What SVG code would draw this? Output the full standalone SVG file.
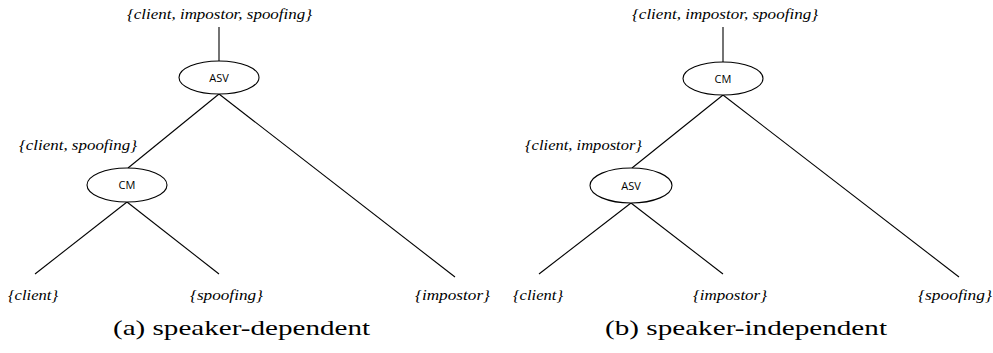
<svg xmlns="http://www.w3.org/2000/svg" width="993" height="353" viewBox="0 0 993 353">
  <style>
    .edge { stroke: #000; stroke-width: 1.1; fill: none; }
    .node ellipse { fill: #fff; stroke: #000; stroke-width: 1.1; }
    .node text { font-family: "Open Sans", "Liberation Sans", sans-serif; font-size: 11px; fill: #000; text-anchor: middle; }
    .set { font-family: "Liberation Serif", "DejaVu Serif", serif; font-style: italic; font-size: 14px; fill: #000; }
    .caption { font-family: "Liberation Serif", "DejaVu Serif", serif; font-size: 22px; fill: #000; }
  </style>

  <!-- connectors -->
  <g id="connectors">
    <!-- (a) speaker-dependent -->
    <line class="edge" x1="219" y1="27" x2="219" y2="61"/>
    <line class="edge" x1="219" y1="94" x2="128" y2="168"/>
    <line class="edge" x1="219" y1="94" x2="455" y2="277"/>
    <line class="edge" x1="127" y1="202" x2="35" y2="274"/>
    <line class="edge" x1="127" y1="202" x2="219" y2="274"/>
    <!-- (b) speaker-independent -->
    <line class="edge" x1="723" y1="27" x2="723" y2="62"/>
    <line class="edge" x1="723" y1="95" x2="632" y2="168"/>
    <line class="edge" x1="723" y1="95" x2="959" y2="277"/>
    <line class="edge" x1="631" y1="203" x2="539" y2="274"/>
    <line class="edge" x1="631" y1="203" x2="723" y2="274"/>
  </g>

  <!-- (a) nodes -->
  <g id="a-asv" class="node">
    <ellipse cx="219" cy="77.5" rx="40" ry="16.5"/>
    <text x="219" y="81.5">ASV</text>
  </g>
  <g id="a-cm" class="node">
    <ellipse cx="127" cy="185" rx="40" ry="17"/>
    <text x="127" y="189">CM</text>
  </g>

  <!-- (b) nodes -->
  <g id="b-cm" class="node">
    <ellipse cx="723" cy="78.5" rx="40" ry="16.5"/>
    <text x="723" y="82.5">CM</text>
  </g>
  <g id="b-asv" class="node">
    <ellipse cx="631" cy="185.5" rx="41" ry="17.5"/>
    <text x="631" y="189.5">ASV</text>
  </g>

  <!-- set labels (a) -->
  <g id="a-labels">
    <text class="set" x="127" y="19" textLength="185" lengthAdjust="spacingAndGlyphs">{client, impostor, spoofing}</text>
    <text class="set" x="19" y="150" textLength="118" lengthAdjust="spacingAndGlyphs">{client, spoofing}</text>
    <text class="set" x="8" y="300" textLength="50" lengthAdjust="spacingAndGlyphs">{client}</text>
    <text class="set" x="190" y="300" textLength="73" lengthAdjust="spacingAndGlyphs">{spoofing}</text>
    <text class="set" x="415" y="300" textLength="75" lengthAdjust="spacingAndGlyphs">{impostor}</text>
  </g>

  <!-- set labels (b) -->
  <g id="b-labels">
    <text class="set" x="632" y="19" textLength="186" lengthAdjust="spacingAndGlyphs">{client, impostor, spoofing}</text>
    <text class="set" x="525" y="150" textLength="117" lengthAdjust="spacingAndGlyphs">{client, impostor}</text>
    <text class="set" x="513" y="300" textLength="50" lengthAdjust="spacingAndGlyphs">{client}</text>
    <text class="set" x="693" y="300" textLength="74" lengthAdjust="spacingAndGlyphs">{impostor}</text>
    <text class="set" x="918" y="300" textLength="74" lengthAdjust="spacingAndGlyphs">{spoofing}</text>
  </g>

  <!-- captions -->
  <text class="caption" x="113" y="335" textLength="257" lengthAdjust="spacingAndGlyphs">(a) speaker-dependent</text>
  <text class="caption" x="605" y="335" textLength="282" lengthAdjust="spacingAndGlyphs">(b) speaker-independent</text>
</svg>
